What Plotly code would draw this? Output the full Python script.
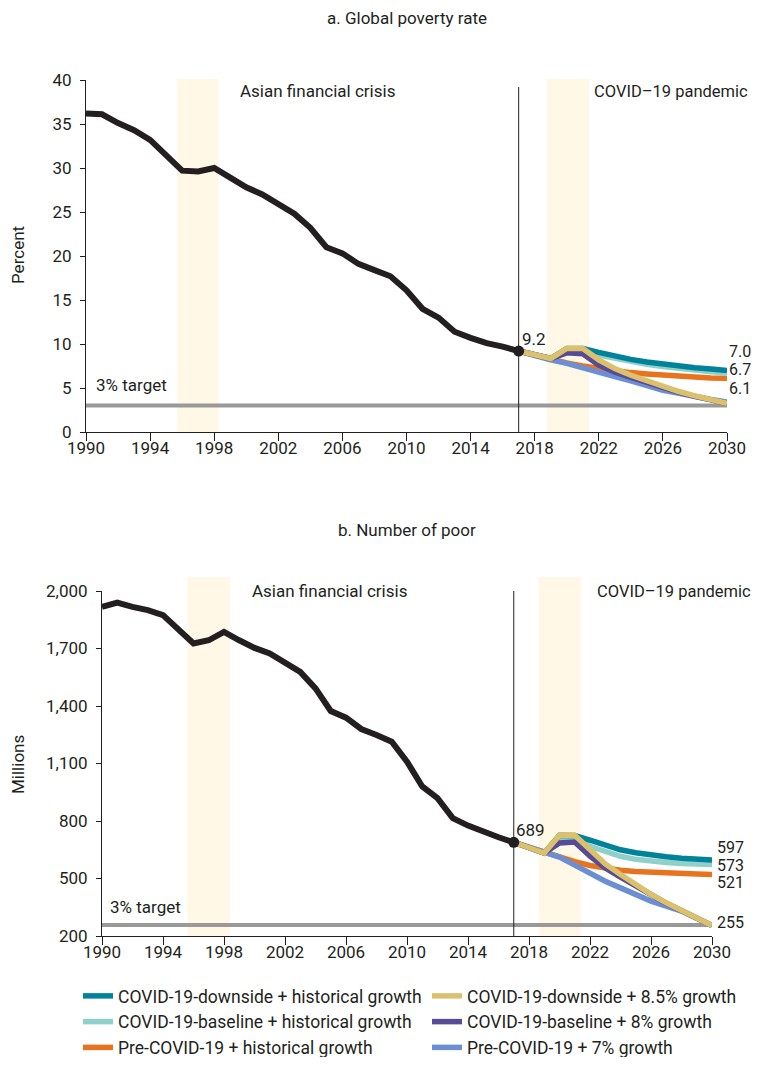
import plotly.graph_objects as go

# historical series, 1990-2017
years_hist = list(range(1990, 2018))
rate_hist = [36.2, 36.1, 35.1, 34.3, 33.2, 31.4, 29.7, 29.6, 30.0, 28.9, 27.8, 27.0, 25.9, 24.8,
             23.2, 21.0, 20.3, 19.1, 18.4, 17.7, 16.1, 14.0, 13.0, 11.4, 10.7, 10.1, 9.7, 9.2]
poor_hist = [1917, 1939, 1917, 1900, 1874, 1796, 1726, 1743, 1787, 1743, 1703, 1674, 1622, 1578,
             1492, 1374, 1339, 1280, 1249, 1214, 1110, 980, 919, 815, 776, 743, 715, 689]

# projections, 2017-2030
years_proj = list(range(2017, 2031))
rate_down_hist = [9.2, 8.7, 8.35, 9.5, 9.5, 9.05, 8.6, 8.25, 7.95, 7.7, 7.5, 7.3, 7.15, 7.0]
rate_base_hist = [9.2, 8.7, 8.35, 9.35, 9.35, 8.75, 8.35, 8.0, 7.7, 7.45, 7.2, 7.0, 6.85, 6.7]
rate_pre_hist = [9.2, 8.7, 8.25, 7.85, 7.5, 7.2, 6.95, 6.75, 6.6, 6.45, 6.35, 6.25, 6.15, 6.1]
rate_down_85 = [9.2, 8.7, 8.35, 9.5, 9.5, 8.2, 7.2, 6.45, 5.8, 5.15, 4.6, 4.1, 3.6, 3.25]
rate_base_8 = [9.2, 8.7, 8.35, 9.0, 8.9, 7.6, 6.8, 6.2, 5.6, 5.05, 4.5, 4.05, 3.6, 3.25]
rate_pre_7 = [9.2, 8.65, 8.2, 7.8, 7.35, 6.85, 6.3, 5.8, 5.2, 4.75, 4.4, 4.0, 3.7, 3.4]

poor_down_hist = [689, 659, 633, 726, 725, 700, 672, 650, 634, 622, 613, 606, 601, 597]
poor_base_hist = [689, 659, 633, 715, 715, 668, 639, 616, 600, 590, 583, 578, 575, 573]
poor_pre_hist = [689, 662, 636, 612, 588, 568, 553, 543, 537, 532, 528, 525, 523, 521]
poor_down_85 = [689, 659, 633, 726, 726, 651, 576, 521, 465, 417, 373, 335, 298, 255]
poor_base_8 = [689, 659, 633, 685, 690, 616, 555, 507, 460, 414, 371, 333, 296, 255]
poor_pre_7 = [689, 664, 640, 612, 570, 524, 486, 451, 415, 382, 356, 330, 293, 255]

rate_target = 3
poor_target = 258
rate_end_labels = ["7.0", "6.7", "6.1"]
poor_end_labels = ["597", "573", "521", "255"]

FONT = "Roboto, sans-serif"
TXT = "#231f20"
BAND = "#fff8e6"
W, H = 752, 1049  # page body adds an 8px margin; keep the page within the window


def px(x):
    return x / W


def py(y):
    return 1 - y / H


# (name, color, rate series, poor series, legend rank) - listed in drawing order
scenarios = [
    ("Pre-COVID-19 + historical growth", "#e8731e", rate_pre_hist, poor_pre_hist, 5),
    ("Pre-COVID-19 + 7% growth", "#6c8fd3", rate_pre_7, poor_pre_7, 6),
    ("COVID-19-baseline + historical growth", "#8fd0cb", rate_base_hist, poor_base_hist, 3),
    ("COVID-19-downside + historical growth", "#00839a", rate_down_hist, poor_down_hist, 1),
    ("COVID-19-baseline + 8% growth", "#564b96", rate_base_8, poor_base_8, 4),
    ("COVID-19-downside + 8.5% growth", "#dcc16d", rate_down_85, poor_down_85, 2),
]

fig = go.Figure()

# target lines
fig.add_trace(go.Scatter(x=[1990, 2030], y=[rate_target] * 2, mode="lines",
                         line=dict(color="#999999", width=4), showlegend=False,
                         xaxis="x", yaxis="y", hoverinfo="skip"))
fig.add_trace(go.Scatter(x=[1990, 2030], y=[poor_target] * 2, mode="lines",
                         line=dict(color="#999999", width=4), showlegend=False,
                         xaxis="x2", yaxis="y2", hoverinfo="skip"))

for name, color, rate, poor, rank in scenarios:
    fig.add_trace(go.Scatter(x=years_proj, y=rate, mode="lines", name=name,
                             line=dict(color=color, width=5.5), legendgroup=name,
                             legendrank=rank, xaxis="x", yaxis="y"))
    fig.add_trace(go.Scatter(x=years_proj, y=poor, mode="lines", name=name,
                             line=dict(color=color, width=5.5), legendgroup=name,
                             showlegend=False, xaxis="x2", yaxis="y2"))

# historical lines
fig.add_trace(go.Scatter(x=years_hist, y=rate_hist, mode="lines",
                         line=dict(color="#231f20", width=6), showlegend=False,
                         xaxis="x", yaxis="y"))
fig.add_trace(go.Scatter(x=years_hist, y=poor_hist, mode="lines",
                         line=dict(color="#231f20", width=6), showlegend=False,
                         xaxis="x2", yaxis="y2"))
fig.add_trace(go.Scatter(x=[years_hist[-1]], y=[rate_hist[-1]], mode="markers",
                         marker=dict(color="#231f20", size=11), showlegend=False,
                         xaxis="x", yaxis="y"))
fig.add_trace(go.Scatter(x=[years_hist[-1]], y=[poor_hist[-1]], mode="markers",
                         marker=dict(color="#231f20", size=11), showlegend=False,
                         xaxis="x2", yaxis="y2"))

# shaded crisis periods
shapes = [
    dict(type="rect", xref="x", yref="paper", x0=1995.7, x1=1998.3, y0=py(424), y1=py(71),
         fillcolor=BAND, line_width=0, layer="below"),
    dict(type="rect", xref="x", yref="paper", x0=2018.75, x1=2021.4, y0=py(424), y1=py(71),
         fillcolor=BAND, line_width=0, layer="below"),
    dict(type="rect", xref="x2", yref="paper", x0=1995.6, x1=1998.4, y0=py(928), y1=py(569),
         fillcolor=BAND, line_width=0, layer="below"),
    dict(type="rect", xref="x2", yref="paper", x0=2018.65, x1=2021.4, y0=py(928), y1=py(569),
         fillcolor=BAND, line_width=0, layer="below"),
    dict(type="line", xref="x", yref="y", x0=2017, x1=2017, y0=0, y1=39.2,
         line=dict(color="#231f20", width=1)),
    dict(type="line", xref="x2", yref="y2", x0=2017, x1=2017, y0=200, y1=2000,
         line=dict(color="#231f20", width=1)),
]

ann = []
def txt(text, x, y, xref, yref, xanchor="left", size=17, **kw):
    ann.append(dict(text=text, x=x, y=y, xref=xref, yref=yref, xanchor=xanchor,
                    yanchor="middle", showarrow=False, font=dict(size=size, color=TXT), **kw))

txt("a. Global poverty rate", px(399), py(10), "paper", "paper", "center")
txt("b. Number of poor", px(399), py(522), "paper", "paper", "center")
txt("Percent", px(10), py(247), "paper", "paper", "center", textangle=-90)
txt("Millions", px(10), py(757), "paper", "paper", "center", textangle=-90)

txt("Asian financial crisis", 1999.5, 38.7, "x", "y")
txt("COVID\u201319 pandemic", 2021.6, 38.7, "x", "y", size=16.5)
txt("3% target", 1990.5, 5.3, "x", "y")
txt("9.2", 2017.1, 10.6, "x", "y")
# end-of-line labels, stacked to the right of 2030
for lab, yv in zip(rate_end_labels, [9.1, 7.05, 4.9]):
    txt(lab, 2030, yv, "x", "y", xshift=1, size=16, borderpad=0)

txt("Asian financial crisis", 1999.7, 2000, "x2", "y2")
txt("COVID\u201319 pandemic", 2022.35, 2000, "x2", "y2", size=16.5)
txt("3% target", 1990.4, 353, "x2", "y2")
txt("689", 2017.0, 752, "x2", "y2")
for lab, yv in zip(poor_end_labels, [660, 570, 477, 273]):
    txt(lab, 2030, yv, "x2", "y2", xshift=4, size=16, borderpad=0)

axis_common = dict(showline=True, linecolor="#231f20", linewidth=1, ticks="outside",
                   tickcolor="#231f20", showgrid=False, zeroline=False,
                   tickfont=dict(size=17, color=TXT))
xstyle = dict(ticklen=8, ticklabelstandoff=-7, **axis_common)
ystyle = dict(ticklen=5, ticklabelstandoff=5, **axis_common)
xticks = list(range(1990, 2031, 4))

fig.update_layout(
    width=W, height=H,
    margin=dict(l=0, r=0, t=0, b=0, autoexpand=False),
    paper_bgcolor="white", plot_bgcolor="white",
    font=dict(family=FONT, color=TXT),
    xaxis=dict(domain=[px(78), px(719)], range=[1990, 2030], tickvals=xticks,
               anchor="y", **xstyle),
    yaxis=dict(domain=[py(424), py(72)], range=[0, 40], dtick=5,
               anchor="x", **ystyle),
    xaxis2=dict(domain=[px(94), px(704)], range=[1990, 2030], tickvals=xticks,
                anchor="y2", **xstyle),
    yaxis2=dict(domain=[py(928), py(583)], range=[200, 2000],
                tickvals=[200, 500, 800, 1100, 1400, 1700, 2000], tickformat=",",
                anchor="x2", **ystyle),
    shapes=shapes,
    annotations=ann,
    legend=dict(orientation="h", x=px(70), xanchor="left", y=py(970), yanchor="top",
                entrywidth=304, entrywidthmode="pixels", font=dict(size=17.5, color=TXT),
                tracegroupgap=0, itemwidth=30, bgcolor="rgba(0,0,0,0)"),
    showlegend=True,
)

fig.write_html("out.html")
